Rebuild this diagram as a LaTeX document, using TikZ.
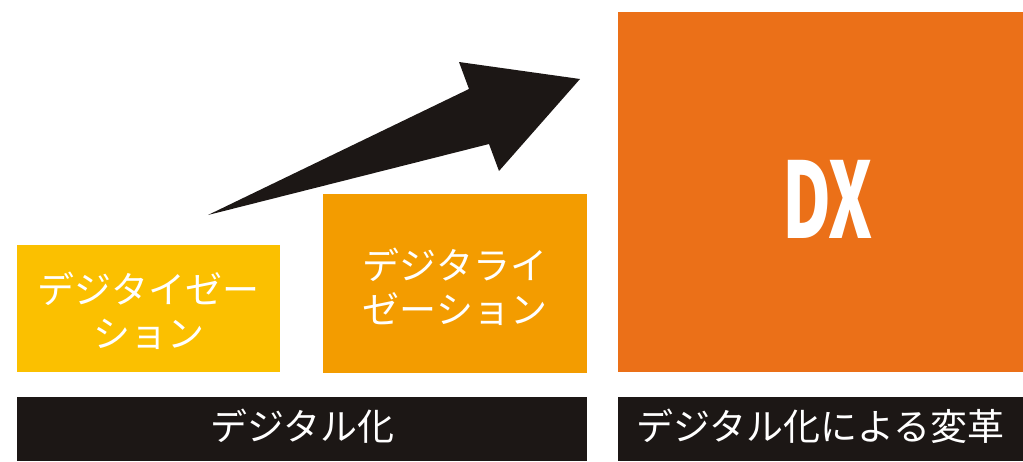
\documentclass[tikz,border=0pt]{standalone}
\usepackage{fontspec}
\usepackage{graphicx}
\newfontfamily\jpfont{Noto Sans CJK JP}
\definecolor{cyellow}{HTML}{FBC000}
\definecolor{camber}{HTML}{F39C00}
\definecolor{corange}{HTML}{EB7018}
\definecolor{cblack}{HTML}{1C1715}
\tikzset{
  box/.style={fill=#1, draw=none, inner sep=0pt, anchor=north west},
  boxtext/.style={text=white, align=center, font=\jpfont\fontsize{37}{44}\selectfont, inner sep=0pt}
}
\begin{document}
\begin{tikzpicture}[x=1pt,y=-1pt]
\useasboundingbox (0,0) rectangle (1023,461);
% boxes
\node[box=cyellow, minimum width=263pt, minimum height=127pt] (b1) at (17,245) {};
\node[box=camber, minimum width=264pt, minimum height=179pt] (b2) at (323,194) {};
\node[box=corange, minimum width=405pt, minimum height=360pt] (b3) at (618,12) {};
\node[box=cblack, minimum width=570pt, minimum height=64pt] (bar1) at (17,397) {};
\node[box=cblack, minimum width=405pt, minimum height=64pt] (bar2) at (618,397) {};
% texts
\node[boxtext] (t1) at (148.5,311) {デジタイゼー\\ション};
\node[boxtext] (t2) at (455,287) {デジタライ\\ゼーション};
\node[boxtext] (t3) at ([yshift=3pt]bar1.center) {デジタル化};
\node[boxtext] (t4) at ([yshift=3pt]bar2.center) {デジタル化による変革};
\node[text=white, inner sep=0pt] (dx) at (827.5,199.5) {\scalebox{0.64}[1]{\jpfont\bfseries\fontsize{105}{105}\selectfont DX}};
% arrow
\coordinate (tail) at (208,215);
\coordinate (ls) at (489,144);
\coordinate (lb) at (499,171);
\coordinate (tip) at (580,79);
\coordinate (ub) at (459,62);
\coordinate (us) at (469,89);
\fill[cblack] (tail) -- (ls) -- (lb) -- (tip) -- (ub) -- (us) -- cycle;
\end{tikzpicture}
\end{document}
